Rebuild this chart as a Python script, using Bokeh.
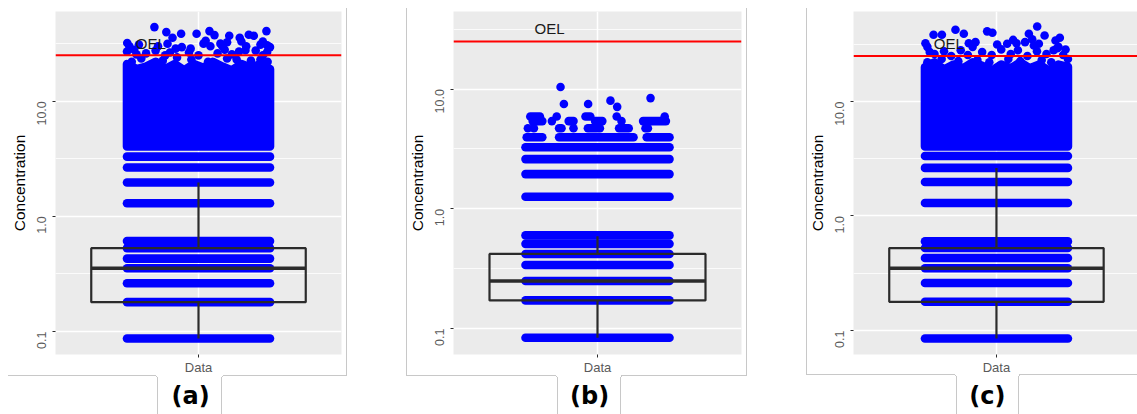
import math
from bokeh.plotting import figure
from bokeh.models import Range1d, FixedTicker, Span, LinearAxis
from bokeh.layouts import row
from bokeh.core.properties import value
from bokeh.embed import file_html
from bokeh.resources import INLINE

# ---------------- data ----------------
CATEGORY = "Data"
OEL = 25.0
OEL_LABEL_X = 0.8
OEL_LABEL_Y = 32.0
Y_TICKS = [0.1, 1.0, 10.0]
Y_TICK_LABELS = ["0.1", "1.0", "10.0"]
Y_MINOR = [0.316, 3.16, 31.6]
PANEL_LABELS = ["(a)", "(b)", "(c)"]
Y_RANGES = [(0.0632, 60.1), (0.0608, 44.4), (0.0617, 61.1)]

# panel (a)
a_box = [0.18, 0.355, 0.53]          # Q1, median, Q3
a_whisker = [0.087, 1.97]
a_bands = [0.087, 0.18, 0.263, 0.355, 0.43, 0.53, 0.61, 1.30, 1.97, 2.66, 3.3]
a_dense_bottom = 4.05
a_dense_x = [0.70, 0.74, 0.78, 0.82, 0.86, 0.90, 0.94, 0.98, 1.02, 1.06, 1.10, 1.14, 1.18, 1.22, 1.26, 1.30]
a_dense_top = [21, 19, 20, 22, 19, 21, 18.5, 21, 19.5, 22, 20, 18.5, 21, 19.5, 21, 19]
a_pts_x = [0.815, 0.865, 0.891, 0.927, 0.992, 1.046, 1.067, 1.129, 1.173, 1.211, 1.232, 1.285,
           0.701, 1.021, 1.092, 1.260, 1.288, 1.197, 0.967, 0.904, 1.288,
           0.71, 0.73, 0.75, 0.83, 0.87, 0.93, 1.03, 1.05, 1.10, 1.12, 1.18, 1.20, 1.27, 1.30,
           0.70, 0.74, 0.78, 0.82, 0.86, 0.88, 0.96, 1.00, 1.08, 1.11, 1.14, 1.17, 1.24, 1.27,
           0.76, 0.97, 1.12, 1.26, 0.72, 0.85, 0.91, 1.04, 1.16, 1.22, 1.29]
a_pts_y = [44.0, 39.8, 35.6, 38.5, 38.5, 40.6, 37.5, 37.0, 35.6, 37.8, 37.0, 40.6,
           32.0, 31.6, 31.6, 31.0, 30.6, 27.7, 28.6, 28.6, 26.7,
           30.0, 28.0, 31.0, 30.0, 31.5, 29.5, 33.5, 30.0, 30.0, 32.5, 33.0, 30.0, 33.0, 29.5,
           27.0, 25.5, 26.0, 27.5, 25.0, 26.5, 26.5, 25.0, 26.0, 28.0, 25.5, 27.0, 27.5, 25.0,
           23.5, 23.0, 23.5, 23.0, 22.0, 22.5, 24.0, 22.0, 23.0, 22.5, 22.0]

# panel (b)
b_box = [0.172, 0.25, 0.42]
b_whisker = [0.084, 0.59]
b_bands = [0.084, 0.172, 0.25, 0.34, 0.42, 0.51, 0.60, 1.26, 1.95, 2.6, 3.27]
b_seg_y = [3.96, 3.96, 3.96,
           4.7, 4.7, 4.7, 4.7, 4.7, 4.7, 4.7,
           5.4, 5.4, 5.4, 5.4, 5.4, 5.4,
           5.9, 5.9, 5.9, 5.9, 5.9]
b_seg_x0 = [0.705, 0.84, 1.205,
            0.71, 0.735, 0.84, 0.90, 0.96, 1.09, 1.20,
            0.73, 0.81, 0.88, 0.99, 1.10, 1.19,
            0.72, 0.83, 0.95, 1.08, 1.28]
b_seg_x1 = [0.77, 1.15, 1.30,
            0.71, 0.735, 0.85, 0.90, 1.01, 1.13, 1.21,
            0.77, 0.81, 0.90, 1.02, 1.10, 1.285,
            0.76, 0.83, 0.97, 1.08, 1.28]
b_pts_x = [0.846, 0.860, 0.961, 1.054, 1.082, 1.221]
b_pts_y = [10.4, 7.5, 7.5, 8.0, 7.1, 8.4]

# panel (c)
c_box = [0.178, 0.35, 0.525]
c_whisker = [0.085, 2.63]
c_bands = [0.085, 0.178, 0.26, 0.35, 0.43, 0.525, 0.60, 1.30, 1.98, 2.63, 3.34]
c_dense_bottom = 4.05
c_dense_x = [0.70, 0.74, 0.78, 0.82, 0.86, 0.90, 0.94, 0.98, 1.02, 1.06, 1.10, 1.14, 1.18, 1.22, 1.26, 1.30]
c_dense_top = [20, 22, 19, 21, 19.5, 22, 20.5, 18.5, 21, 19.5, 22, 19.5, 21, 18.5, 21, 20]
c_pts_x = [0.828, 0.863, 0.736, 0.771, 0.961, 0.983, 1.171, 1.136, 1.202, 1.248, 1.266, 0.702,
           1.003, 1.084, 1.045, 1.157, 0.912, 0.884, 1.178, 1.255, 0.71, 0.72, 0.90, 1.07,
           1.15, 1.12, 1.26, 1.29,
           0.74, 0.78, 0.81, 0.85, 0.88, 0.94, 0.98, 1.02, 1.06, 1.09, 1.13, 1.17, 1.21, 1.24, 1.28,
           0.77, 0.92, 1.05, 1.19, 1.30, 0.71, 0.84, 0.97, 1.10, 1.23]
c_pts_y = [42.3, 39.0, 38.3, 38.3, 41.0, 39.8, 45.2, 39.0, 37.7, 34.1, 36.0, 32.3,
           31.5, 32.3, 31.9, 30.8, 33.0, 32.3, 31.9, 29.2, 30.0, 27.0, 30.0, 34.5,
           35.0, 33.0, 30.0, 28.5,
           26.0, 27.5, 25.0, 28.0, 25.5, 27.0, 25.5, 28.5, 26.0, 28.0, 25.0, 27.5, 26.0, 28.0, 25.5,
           23.5, 23.0, 23.5, 23.0, 23.5, 22.0, 22.5, 22.0, 22.5, 22.0]

# ---------------- style ----------------
BLUE = "#0000FF"
BOX_COLOR = "#2B2B2B"
BORDER = "#C8C8C8"
FONT = "Liberation Sans"
JITTER = 0.30
BOX_HALF = 0.45
DOT = 8.6

# layout per panel
LAYOUT = [
    dict(width=380, left=55, right=39, bottom=355, xr=1.6, label_x=0.967,
         lines=[(346, 8, 1, 368), (8, 375, 148, 1), (223, 375, 124, 1),
                (156, 376, 1, 1), (157, 377, 1, 40), (222, 376, 1, 1), (221, 377, 1, 40)]),
    dict(width=400, left=73, right=39, bottom=356, xr=1.6, label_x=0.967,
         lines=[(26, 8, 1, 368), (366, 8, 1, 368), (26, 375, 150, 1), (241, 375, 126, 1),
                (176, 376, 1, 1), (177, 377, 1, 40), (241, 376, 1, 1), (240, 377, 1, 40)]),
    dict(width=357, left=73, right=0, bottom=354, xr=1.592, label_x=0.962,
         lines=[(26, 8, 1, 367), (26, 374, 149, 1), (239, 374, 118, 1),
                (175, 375, 1, 1), (176, 376, 1, 40), (239, 375, 1, 1), (238, 376, 1, 40)]),
]


def line_styles(lines):
    grad = "linear-gradient(%s,%s)" % (BORDER, BORDER)
    return {
        "background-color": "white",
        "background-image": ", ".join([grad] * len(lines)),
        "background-size": ", ".join("%dpx %dpx" % (w, h) for (x, y, w, h) in lines),
        "background-position": ", ".join("%dpx %dpx" % (x, y) for (x, y, w, h) in lines),
        "background-repeat": "no-repeat",
    }


def make_panel(i, box, whisker, bands, dense=None, pts=None, segs=None):
    L = LAYOUT[i]
    y0, y1 = Y_RANGES[i]
    p = figure(width=L["width"], height=414, y_axis_type="log",
               x_range=Range1d(0.4, L["xr"]), y_range=Range1d(y0, y1),
               output_backend="svg", toolbar_location=None,
               min_border_left=L["left"], min_border_right=L["right"],
               min_border_top=11, min_border_bottom=414 - L["bottom"],
               styles=line_styles(L["lines"]))
    p.background_fill_color = "#EBEBEB"
    p.border_fill_color = None
    p.outline_line_color = None

    # axes
    p.yaxis.ticker = FixedTicker(ticks=Y_TICKS, minor_ticks=Y_MINOR)
    p.yaxis.major_label_overrides = {t: s for t, s in zip(Y_TICKS, Y_TICK_LABELS)}
    p.yaxis.major_label_orientation = math.pi / 2
    p.yaxis.axis_label = "Concentration"
    p.yaxis.axis_label_text_font = FONT
    p.yaxis.axis_label_text_font_style = "normal"
    p.yaxis.axis_label_text_font_size = "15.5px"
    p.yaxis.axis_label_text_color = "black"
    p.yaxis.axis_label_standoff = 2
    p.xaxis.ticker = FixedTicker(ticks=[1])
    p.xaxis.major_label_overrides = {1: CATEGORY}
    for ax in (p.xaxis, p.yaxis):
        ax.axis_line_color = None
        ax.minor_tick_line_color = None
        ax.major_tick_line_color = BOX_COLOR
        ax.major_tick_out = 3
        ax.major_tick_in = 0
        ax.major_label_text_font = FONT
        ax.major_label_text_color = "#5A5A5A"
    p.yaxis.major_label_text_font_size = "12.5px"
    p.yaxis.major_label_standoff = 10
    p.xaxis.major_label_text_font_size = "13px"
    p.xaxis.major_label_standoff = 2

    # panel label "(a)" etc. as a second bottom axis
    lab = LinearAxis(ticker=FixedTicker(ticks=[L["label_x"]]),
                     major_label_overrides={L["label_x"]: PANEL_LABELS[i]},
                     axis_line_color=None, major_tick_line_color=None,
                     minor_tick_line_color=None, major_tick_out=0, major_tick_in=0,
                     major_label_standoff=4,
                     major_label_text_font="DejaVu Sans",
                     major_label_text_font_style="bold",
                     major_label_text_font_size="24px",
                     major_label_text_color="black")
    p.add_layout(lab, "below")

    # grid
    p.ygrid.grid_line_color = "white"
    p.ygrid.grid_line_width = 1.5
    p.ygrid.minor_grid_line_color = "white"
    p.ygrid.minor_grid_line_width = 0.8
    p.xgrid.grid_line_color = "white"
    p.xgrid.grid_line_width = 1.5

    # points: discrete bands of jittered points
    n = len(bands)
    p.segment(x0=[1 - JITTER] * n, x1=[1 + JITTER] * n, y0=bands, y1=bands,
              line_color=BLUE, line_width=DOT, line_cap="round")
    if segs is not None:
        sy, sx0, sx1 = segs
        p.segment(x0=sx0, x1=sx1, y0=sy, y1=sy,
                  line_color=BLUE, line_width=DOT, line_cap="round")
    if dense is not None:
        dx, dtop, dbot = dense
        xs = [dx[0]] + list(dx) + [dx[-1]]
        ys = [dbot] + list(dtop) + [dbot]
        p.patch(xs, ys, fill_color=BLUE, line_color=BLUE, line_width=DOT,
                line_join="round")
    if pts is not None:
        p.scatter(pts[0], pts[1], size=DOT, fill_color=BLUE, line_color=None)

    # boxplot
    q1, med, q3 = box
    lo, hi = whisker
    p.segment(x0=[1, 1], x1=[1, 1], y0=[q3, q1], y1=[hi, lo],
              line_color=BOX_COLOR, line_width=2.2)
    p.quad(left=[1 - BOX_HALF], right=[1 + BOX_HALF], bottom=[q1], top=[q3],
           fill_color=None, line_color=BOX_COLOR, line_width=2.2)
    p.segment(x0=[1 - BOX_HALF], x1=[1 + BOX_HALF], y0=[med], y1=[med],
              line_color=BOX_COLOR, line_width=3.6)

    # OEL
    p.add_layout(Span(location=OEL, dimension="width", line_color="#FF0000",
                      line_width=2))
    p.text(x=[OEL_LABEL_X], y=[OEL_LABEL_Y], text=["OEL"], text_font=value(FONT),
           text_font_size="15px", text_align="center", text_baseline="middle",
           text_color="#1A1A1A")
    return p


pa = make_panel(0, a_box, a_whisker, a_bands,
                dense=(a_dense_x, a_dense_top, a_dense_bottom), pts=(a_pts_x, a_pts_y))
pb = make_panel(1, b_box, b_whisker, b_bands,
                pts=(b_pts_x, b_pts_y), segs=(b_seg_y, b_seg_x0, b_seg_x1))
pc = make_panel(2, c_box, c_whisker, c_bands,
                dense=(c_dense_x, c_dense_top, c_dense_bottom), pts=(c_pts_x, c_pts_y))

layout = row(pa, pb, pc, spacing=0)
open("out.html", "w").write(file_html(layout, INLINE))
